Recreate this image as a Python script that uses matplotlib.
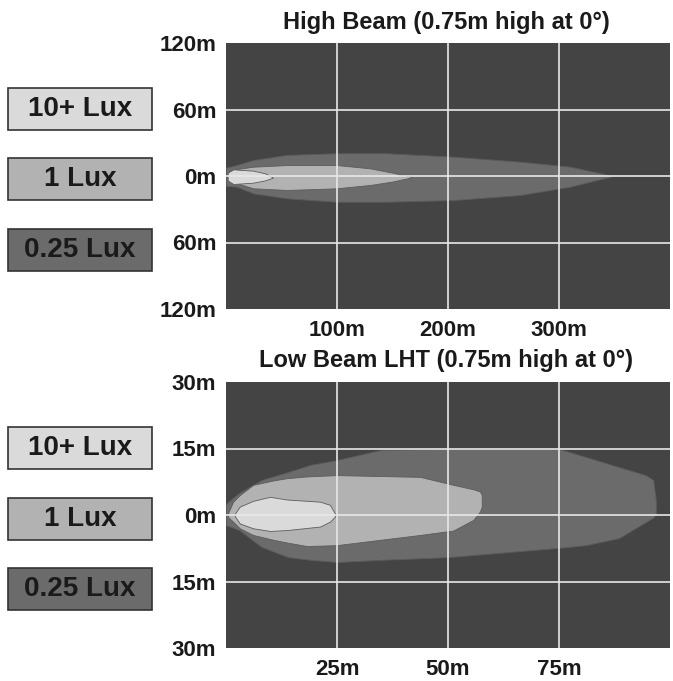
import matplotlib
matplotlib.use('Agg')
import matplotlib.pyplot as plt
from matplotlib.patches import Rectangle

plt.rcParams['font.family'] = ['Liberation Sans', 'DejaVu Sans']
plt.rcParams['font.weight'] = 'bold'

# legend entries
lux_labels = ['10+ Lux', '1 Lux', '0.25 Lux']
lux_colors = ['#dadada', '#b2b2b2', '#6b6b6b']

# High beam isolux outlines (distance m, upper m, lower m)
hb_low_x = [0, 9.6, 24.6, 54.7, 99.7, 144.8, 204.8, 264.9, 309.9, 347.5]
hb_low_up = [7.5, 9.9, 14.4, 19.0, 20.5, 20.5, 17.4, 12.9, 8.4, 0.3]
hb_low_dn = [-8.8, -9.6, -15.6, -20.1, -23.2, -23.2, -21.7, -17.1, -9.6, -0.3]

hb_mid_x = [8, 24.6, 54.7, 99.7, 129.8, 150, 167.3]
hb_mid_up = [6.0, 8.4, 9.9, 9.9, 6.9, 3.0, -0.8]
hb_mid_dn = [-6.0, -11.1, -12.6, -11.1, -8.1, -5.0, -1.2]

hb_hi_x = [1.5, 6.6, 24.6, 35, 42]
hb_hi_up = [3.0, 6.0, 4.8, 2.5, -1.2]
hb_hi_dn = [-4.0, -7.2, -6.0, -4.0, -1.6]

# Low beam isolux outlines
lb_low_x = [0, 1.5, 3, 8, 14, 19, 25, 35, 50, 75, 81, 88.5, 94.5, 96.2, 96.8]
lb_low_up = [2.5, 3.8, 5.0, 7.9, 9.7, 11.3, 12.4, 14.7, 14.9, 14.9, 13.1, 10.8, 9.0, 7.9, 3.4]
lb_low_dn = [-2.3, -2.8, -3.4, -7.2, -9.5, -10.1, -10.6, -10.1, -9.5, -7.4, -6.8, -5.2, -1.6, -0.6, 0.2]

lb_mid_x = [0.5, 1.6, 3.1, 6.1, 10.7, 13.7, 18.2, 24.9, 43.7, 51.2, 55.7, 57.2, 57.6]
lb_mid_up = [0.5, 3.0, 4.5, 6.8, 7.8, 8.3, 8.7, 9.0, 8.6, 6.8, 5.8, 5.3, 4.5]
lb_mid_dn = [-0.5, -1.5, -3.0, -4.5, -5.6, -6.2, -7.0, -6.8, -4.5, -3.5, -1.1, 0.8, 1.9]

lb_hi_x = [2.0, 3.1, 6.1, 9.9, 13.7, 21.2, 23.4, 24.5]
lb_hi_up = [0.3, 1.9, 3.2, 4.1, 3.5, 3.0, 2.3, 0.4]
lb_hi_dn = [-0.3, -1.9, -3.0, -3.6, -3.4, -2.6, -1.5, -0.4]

hb_xticks = [100, 200, 300]
hb_yticks = [-120, -60, 0, 60, 120]
lb_xticks = [25, 50, 75]
lb_yticks = [-30, -15, 0, 15, 30]

W, H = 673, 681
fig = plt.figure(figsize=(W / 100, H / 100), dpi=100)


def panel(top_px, xmax, ymax, xt, yt, shapes, title, title_px):
    ax = fig.add_axes([226 / W, 1 - (top_px + 266) / H, 444 / W, 266 / H])
    ax.set_facecolor('#444444')
    for (x, up, dn), c in zip(shapes, lux_colors[::-1]):
        ax.fill_between(x, dn, up, color=c, edgecolor='#5c5c5c', linewidth=0.6, zorder=2)
    for v in xt:
        ax.axvline(v, color='#e8e8e8', lw=1.2, zorder=5)
    for v in yt[1:-1]:
        ax.axhline(v, color='#e8e8e8', lw=1.2, zorder=5)
    ax.set_xlim(0, xmax)
    ax.set_ylim(-ymax, ymax)
    ax.set_xticks(xt)
    ax.set_xticklabels(['%dm' % v for v in xt])
    ax.set_yticks(yt)
    ax.set_yticklabels(['%dm' % abs(v) for v in yt])
    ax.tick_params(length=0, labelsize=16, colors='#1a1a1a')
    ax.tick_params(axis='x', pad=8)
    ax.tick_params(axis='y', pad=7)
    for s in ax.spines.values():
        s.set_visible(False)
    fig.text(446 / W, 1 - title_px / H, title, ha='center', va='baseline',
             fontsize=17, fontweight='bold', color='#1a1a1a')
    # legend boxes
    for i, (lab, c) in enumerate(zip(lux_labels, lux_colors)):
        y0 = top_px + 45 + i * 70.5
        fig.add_artist(Rectangle((8 / W, 1 - (y0 + 42) / H), 144 / W, 42 / H,
                                 transform=fig.transFigure, facecolor=c,
                                 edgecolor='#333333', linewidth=1.2))
        fig.text(80 / W, 1 - (y0 + 21) / H, lab, ha='center', va='center',
                 fontsize=20, fontweight='bold', color='#1a1a1a')
    return ax


panel(43, 400, 120, hb_xticks, hb_yticks,
      [(hb_low_x, hb_low_up, hb_low_dn), (hb_mid_x, hb_mid_up, hb_mid_dn),
       (hb_hi_x, hb_hi_up, hb_hi_dn)],
      'High Beam (0.75m high at 0\u00b0)', 29)
panel(382, 100, 30, lb_xticks, lb_yticks,
      [(lb_low_x, lb_low_up, lb_low_dn), (lb_mid_x, lb_mid_up, lb_mid_dn),
       (lb_hi_x, lb_hi_up, lb_hi_dn)],
      'Low Beam LHT (0.75m high at 0\u00b0)', 367)

fig.savefig('out.png', dpi=100)
